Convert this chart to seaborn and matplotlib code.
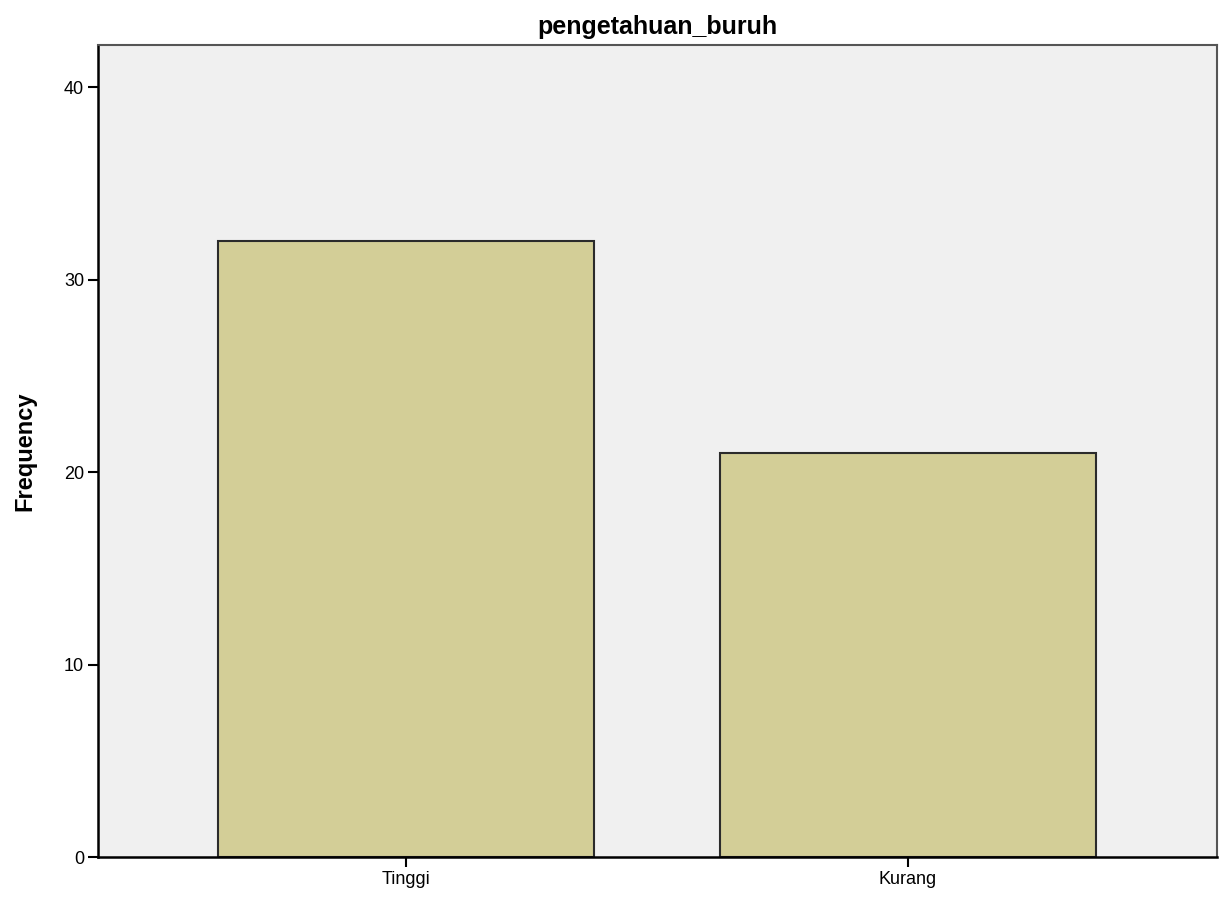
import matplotlib
matplotlib.use('Agg')
import matplotlib.pyplot as plt
import seaborn as sns
import pandas as pd

sns.set_style('white')
plt.rcParams['font.family'] = ['Liberation Sans', 'DejaVu Sans']
plt.rcParams['text.color'] = 'black'
plt.rcParams['axes.labelcolor'] = 'black'
plt.rcParams['xtick.color'] = 'black'
plt.rcParams['ytick.color'] = 'black'

categories = ['Tinggi', 'Kurang']
frequency = [32, 21]

df = pd.DataFrame({'kategori': categories, 'Frequency': frequency})

fig = plt.figure(figsize=(12.19, 9), dpi=100)
ax = fig.add_axes([98 / 1219, 43 / 900, 1119 / 1219, 812 / 900])
ax.set_facecolor('#F0F0F0')

sns.barplot(data=df, x='kategori', y='Frequency', ax=ax, color='#D3CE97',
            width=0.75, edgecolor='#2b2b2b', linewidth=1.5, saturation=1)

ax.set_xlim(-0.614, 1.616)
ax.set_ylim(0, 42.2)
ax.set_yticks([0, 10, 20, 30, 40])
ax.set_xlabel('')
ax.set_ylabel('Frequency', fontsize=17, fontweight='bold', labelpad=20)
ax.set_title('pengetahuan_buruh', fontsize=18, fontweight='bold', pad=8)
ax.tick_params(axis='both', which='both', length=7, width=1.5, color='black',
               labelsize=13, direction='out', left=True, bottom=True, pad=3)

for side in ['left', 'bottom']:
    ax.spines[side].set_color('black')
    ax.spines[side].set_linewidth(1.8)
for side in ['top', 'right']:
    ax.spines[side].set_color('#555555')
    ax.spines[side].set_linewidth(1.5)

fig.savefig('out.png', dpi=100)
